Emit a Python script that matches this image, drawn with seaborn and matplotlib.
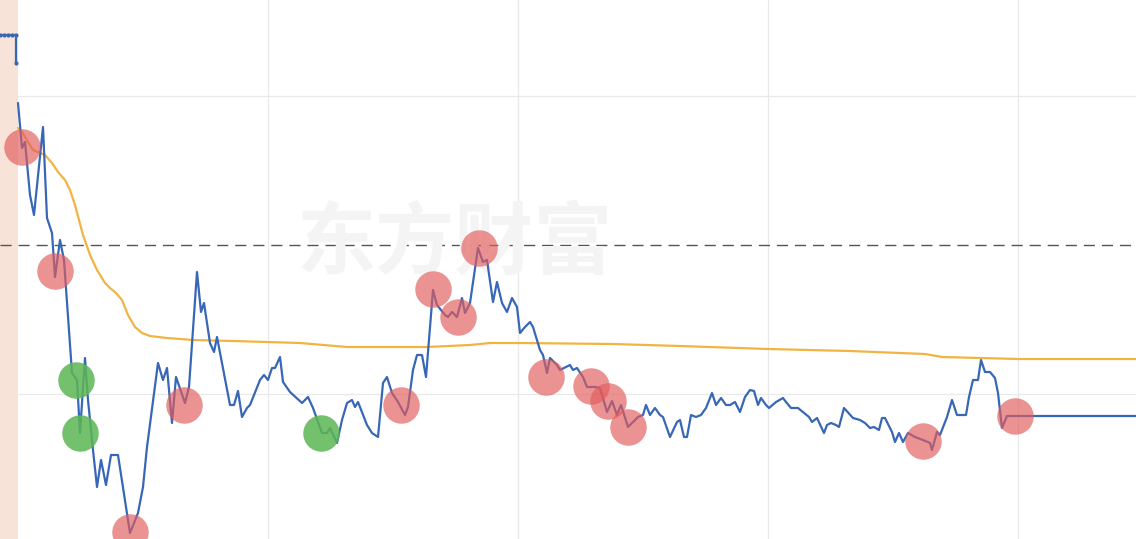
"""
plot.py
Intraday price chart with average-price line and buy / sell signal markers.
"""

import numpy as np
import pandas as pd
import matplotlib
matplotlib.use("Agg")
import matplotlib.pyplot as plt
import seaborn as sns

# ─────────────────────────────────────────────
# Data (time index, price)
# ─────────────────────────────────────────────
PREV_CLOSE = 14.90
LIMIT_STEP = 1.49
GRID_TIMES = [268, 518, 768, 1018]
AUCTION_END = 18

auction_t = [0, 4, 8, 12, 16, 16]
auction_p = [17.00, 17.00, 17.00, 17.00, 17.00, 16.72]

price_t = [
    18, 22, 25, 30, 34, 43, 47, 52, 55, 60, 64, 72, 77, 80, 85, 88, 93, 97, 101, 106,
    111, 118, 130, 138, 143, 147, 158, 163, 167, 172, 176, 185, 189, 197, 201, 204, 210, 214, 217, 230,
    234, 238, 242, 247, 250, 260, 264, 268, 272, 275, 280, 283, 290, 302, 308, 313, 322, 327, 330, 337,
    342, 347, 352, 355, 358, 367, 372, 378, 383, 387, 392, 398, 405, 408, 413, 417, 422, 426, 433, 437,
    445, 448, 452, 457, 462, 465, 470, 478, 483, 487, 493, 497, 502, 507, 512, 517, 520, 525, 530, 533,
    540, 543, 547, 550, 557, 560, 570, 573, 577, 583, 587, 595, 600, 607, 612, 617, 621, 628, 638, 643,
    646, 650, 655, 660, 663, 670, 677, 680, 684, 687, 691, 696, 701, 706, 712, 716, 721, 726, 730, 735,
    740, 745, 750, 754, 758, 761, 766, 769, 776, 783, 786, 791, 798, 809, 812, 817, 824, 827, 831, 836,
    839, 844, 853, 860, 865, 870, 874, 879, 882, 885, 892, 895, 899, 903, 908, 915, 923, 930, 932, 937,
    940, 947, 952, 957, 966, 969, 973, 978, 981, 985, 990, 995, 998, 1002, 1007, 1136,
]
price_p = [
    16.32, 15.87, 15.93, 15.40, 15.20, 16.08, 15.17, 15.02, 14.58, 14.95, 14.75, 13.62, 13.55, 13.02, 13.77, 13.35, 12.85, 12.48, 12.75, 12.50,
    12.80, 12.80, 12.02, 12.22, 12.48, 12.88, 13.72, 13.55, 13.67, 13.12, 13.58, 13.32, 13.48, 14.63, 14.23, 14.32, 13.92, 13.83, 13.98, 13.30,
    13.30, 13.44, 13.18, 13.27, 13.30, 13.55, 13.60, 13.55, 13.67, 13.67, 13.78, 13.53, 13.43, 13.32, 13.38, 13.27, 13.02, 13.02, 13.07, 12.92,
    13.15, 13.32, 13.35, 13.28, 13.33, 13.10, 13.02, 12.98, 13.52, 13.58, 13.42, 13.33, 13.20, 13.28, 13.65, 13.80, 13.80, 13.58, 14.45, 14.30,
    14.20, 14.18, 14.23, 14.18, 14.37, 14.22, 14.32, 14.87, 14.73, 14.75, 14.33, 14.53, 14.32, 14.23, 14.37, 14.28, 14.02, 14.08, 14.13, 14.08,
    13.85, 13.80, 13.62, 13.77, 13.70, 13.65, 13.70, 13.65, 13.67, 13.58, 13.48, 13.48, 13.47, 13.23, 13.34, 13.20, 13.30, 13.08, 13.18, 13.20,
    13.30, 13.20, 13.27, 13.20, 13.18, 12.98, 13.13, 13.15, 12.98, 12.98, 13.20, 13.18, 13.20, 13.27, 13.42, 13.30, 13.37, 13.30, 13.30, 13.33,
    13.23, 13.38, 13.45, 13.44, 13.30, 13.37, 13.30, 13.27, 13.33, 13.37, 13.33, 13.27, 13.27, 13.18, 13.13, 13.17, 13.02, 13.10, 13.12, 13.10,
    13.08, 13.27, 13.17, 13.15, 13.12, 13.07, 13.08, 13.05, 13.17, 13.17, 13.03, 12.93, 13.02, 12.93, 13.02, 12.98, 12.95, 12.92, 12.85, 13.03,
    13.00, 13.18, 13.35, 13.20, 13.20, 13.38, 13.55, 13.55, 13.75, 13.63, 13.63, 13.57, 13.42, 13.07, 13.19, 13.19,
]

avg_t = [18, 22, 33, 45, 52, 58, 65, 70, 75, 83, 90, 97, 105, 110, 116, 122, 128, 135, 142, 150,
         167, 193, 233, 300, 347, 427, 470, 490, 520, 613, 680, 768, 850, 925, 942, 1019, 1136]
avg_p = [16.07, 16.03, 15.85, 15.80, 15.72, 15.63, 15.55, 15.45, 15.30, 15.00, 14.80, 14.65, 14.52, 14.47,
         14.42, 14.35, 14.20, 14.08, 14.02, 13.99, 13.97, 13.95, 13.94, 13.92, 13.88, 13.88, 13.90, 13.92,
         13.92, 13.91, 13.89, 13.86, 13.84, 13.81, 13.78, 13.76, 13.76]

sell_t = [22, 55, 130, 184, 401, 433, 458, 479, 546, 591, 608, 628, 923, 1015]
sell_p = [15.88, 14.64, 12.03, 13.30, 13.30, 14.46, 14.18, 14.87, 13.58, 13.49, 13.34, 13.08, 12.94, 13.19]

buy_t = [76, 80, 321]
buy_p = [13.55, 13.02, 13.02]

WATERMARK = "东方财富"

# ─────────────────────────────────────────────
# Plot
# ─────────────────────────────────────────────
sns.set_style("white")
plt.rcParams["font.family"] = ["Noto Sans CJK SC", "DejaVu Sans"]

BLUE = "#3867b6"
ORANGE = "#f1b443"

fig = plt.figure(figsize=(11.36, 5.39), dpi=100)
ax = fig.add_axes([0, 0, 1, 1])

ax.set_xlim(0, 1136)
ax.set_ylim(PREV_CLOSE - 2.94, PREV_CLOSE + 2.45)

# auction band + grid
ax.axvspan(0, AUCTION_END, color="#f8e3d8", lw=0, zorder=0)
for t in GRID_TIMES:
    ax.axvline(t, color="#e9e9e9", lw=0.9, zorder=0)
for lvl in [PREV_CLOSE + LIMIT_STEP, PREV_CLOSE - LIMIT_STEP]:
    ax.axhline(lvl, xmin=AUCTION_END / 1136, color="#e9e9e9", lw=0.9, zorder=0)
ax.axhline(PREV_CLOSE, color="#555555", lw=1.0, dashes=(8, 5), zorder=1)

# faint watermark
ax.text(0.40, 0.547, WATERMARK, transform=ax.transAxes, ha="center", va="center",
        fontsize=57, fontweight="bold", color="#f4f4f4", zorder=1)

df_auction = pd.DataFrame({"t": auction_t, "p": auction_p})
df_price = pd.DataFrame({"t": price_t, "p": price_p})
df_avg = pd.DataFrame({"t": avg_t, "p": avg_p})

sns.lineplot(data=df_auction, x="t", y="p", ax=ax, color=BLUE, lw=1.6,
             marker="o", markersize=3, markeredgewidth=0, sort=False, estimator=None, zorder=3)
sns.lineplot(data=df_avg, x="t", y="p", ax=ax, color=ORANGE, lw=1.6,
             sort=False, estimator=None, zorder=2)
sns.lineplot(data=df_price, x="t", y="p", ax=ax, color=BLUE, lw=1.6,
             sort=False, estimator=None, zorder=3)

sns.scatterplot(x=sell_t, y=sell_p, ax=ax, s=690, color="#e25b5b", alpha=0.66,
                linewidth=0, zorder=4)
sns.scatterplot(x=buy_t, y=buy_p, ax=ax, s=690, color="#5cb654", alpha=0.85,
                linewidth=0, zorder=4)

ax.set_xlabel("")
ax.set_ylabel("")
ax.set_xticks([])
ax.set_yticks([])
for s in ax.spines.values():
    s.set_visible(False)

fig.savefig("out.png", dpi=100)
plt.close(fig)
